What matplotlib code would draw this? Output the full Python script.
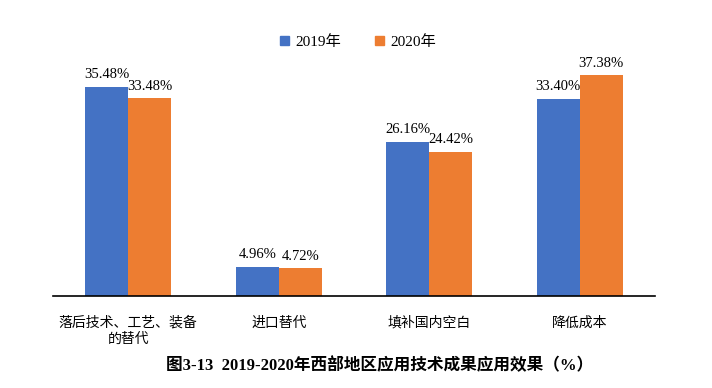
import matplotlib
matplotlib.use("Agg")
import matplotlib.pyplot as plt
import numpy as np
from matplotlib.patches import Patch

plt.rcParams['font.family'] = ['Liberation Serif', 'Noto Sans CJK SC', 'DejaVu Sans']

categories = ["落后技术、工艺、装备\n的替代", "进口替代", "填补国内空白", "降低成本"]
series_names = ["2019年", "2020年"]
values_2019 = [35.48, 4.96, 26.16, 33.40]
values_2020 = [33.48, 4.72, 24.42, 37.38]
colors = ["#4472C4", "#ED7D31"]
title = "图3-13  2019-2020年西部地区应用技术成果应用效果（%）"

fig = plt.figure(figsize=(7.12, 3.88), dpi=100)
ax = fig.add_axes([53/712, (388-296)/388, 602/712, 236/388])

x = np.arange(len(categories))
w = 0.2857
for vals, off, col in [(values_2019, -w/2, colors[0]), (values_2020, w/2, colors[1])]:
    bars = ax.bar(x + off, vals, width=w, color=col, edgecolor='none')
    for b, v in zip(bars, vals):
        ax.annotate(f"{v:.2f}%", (b.get_x() + b.get_width()/2, v),
                    xytext=(0, 4), textcoords='offset points',
                    ha='center', va='bottom', fontsize=10.5,
                    family=['Liberation Serif'])

ax.set_xlim(-0.5, len(categories) - 0.5)
ax.set_ylim(0, 40)
ax.set_yticks([])
ax.set_xticks(x)
ax.set_xticklabels(categories, fontsize=10, linespacing=1.25,
                   family=['Noto Sans CJK SC'])
ax.tick_params(axis='x', length=0, pad=14)
for s in ['top', 'right', 'left']:
    ax.spines[s].set_visible(False)
ax.spines['bottom'].set_linewidth(1.2)

handles = [Patch(color=c, label=n) for c, n in zip(colors, series_names)]
fig.legend(handles=handles, loc='center', bbox_to_anchor=(0.503, 1 - 42/388),
           ncol=2, frameon=False, fontsize=11, handlelength=0.6,
           handleheight=0.6, handletextpad=0.4, columnspacing=2.2)

fig.text(380/712, 1 - 366/388, title, ha='center', va='center',
         fontsize=12, fontweight='bold')

fig.savefig("out.png", dpi=100)
